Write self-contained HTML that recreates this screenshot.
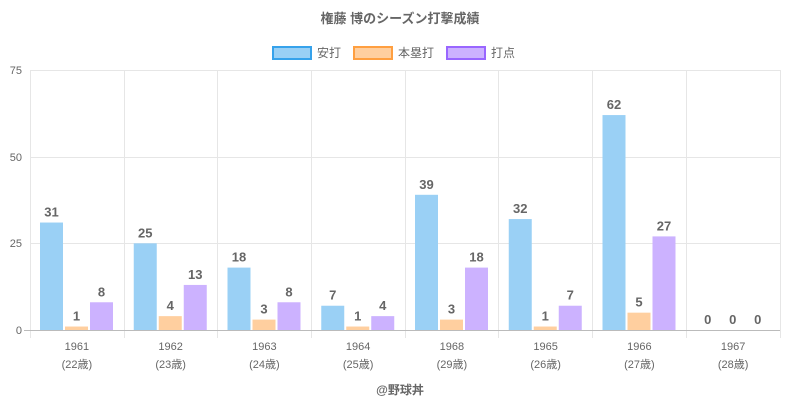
<!DOCTYPE html>
<html><head><meta charset="utf-8"><style>
html,body{margin:0;padding:0;background:#fff;}
svg{display:block;font-family:"Liberation Sans","Noto Sans CJK JP",sans-serif;}
</style></head><body>
<svg width="800" height="400" viewBox="0 0 800 400">
<text x="400" y="23" text-anchor="middle" font-size="13" font-weight="bold" fill="#666">権藤 博のシーズン打撃成績</text>
<!-- legend -->
<rect x="273" y="47" width="38" height="12" fill="#9ad0f5" stroke="#36a2eb" stroke-width="2"/>
<text x="317" y="57" font-size="12" fill="#666">安打</text>
<rect x="354" y="47" width="38" height="12" fill="#ffcf9f" stroke="#ff9f40" stroke-width="2"/>
<text x="398" y="57" font-size="12" fill="#666">本塁打</text>
<rect x="447" y="47" width="38" height="12" fill="#ccb2ff" stroke="#9966ff" stroke-width="2"/>
<text x="491" y="57" font-size="12" fill="#666">打点</text>
<!-- grid -->
<g stroke="#e6e6e6" stroke-width="1">
<line x1="30" y1="70.5" x2="780" y2="70.5"/>
<line x1="30" y1="157.5" x2="780" y2="157.5"/>
<line x1="30" y1="243.5" x2="780" y2="243.5"/>
<line x1="30.5" y1="70" x2="30.5" y2="338"/>
<line x1="124.5" y1="70" x2="124.5" y2="338"/>
<line x1="217.5" y1="70" x2="217.5" y2="338"/>
<line x1="311.5" y1="70" x2="311.5" y2="338"/>
<line x1="405.5" y1="70" x2="405.5" y2="338"/>
<line x1="498.5" y1="70" x2="498.5" y2="338"/>
<line x1="592.5" y1="70" x2="592.5" y2="338"/>
<line x1="686.5" y1="70" x2="686.5" y2="338"/>
<line x1="780.5" y1="70" x2="780.5" y2="338"/>
</g>
<line x1="24" y1="330.5" x2="780" y2="330.5" stroke="#bbb"/>
<g font-size="11" fill="#666" text-anchor="end">
<text x="22" y="74">75</text><text x="22" y="161">50</text><text x="22" y="247">25</text><text x="22" y="334">0</text>
</g>
<g id="bars"></g>
<text x="400" y="394" text-anchor="middle" font-size="12" font-weight="bold" fill="#666">@野球丼</text>
</svg>
<script>
var d=[["1961","22",31,1,8],["1962","23",25,4,13],["1963","24",18,3,8],["1964","25",7,1,4],["1968","29",39,3,18],["1965","26",32,1,7],["1966","27",62,5,27],["1967","28",0,0,0]];
var cols=["#9ad0f5","#ffcf9f","#ccb2ff"],s="",k=260/75;
d.forEach(function(r,i){var x0=30+i*93.75,c=x0+46.9;
for(var j=0;j<3;j++){var v=r[2+j],h=v*k,x=x0+10+j*25,y=330-h;
s+='<rect x="'+x+'" y="'+y+'" width="23" height="'+h+'" fill="'+cols[j]+'"/>';
s+='<text x="'+(x+11.5)+'" y="'+(y-6)+'" text-anchor="middle" font-size="13" font-weight="bold" fill="#666">'+v+'</text>';}
s+='<text x="'+c+'" y="350" text-anchor="middle" font-size="11" fill="#666">'+r[0]+'</text>';
s+='<text x="'+c+'" y="368" text-anchor="middle" font-size="11" fill="#666">('+r[1]+'歳)</text>';});
document.getElementById("bars").innerHTML=s;
</script>
</body></html>
